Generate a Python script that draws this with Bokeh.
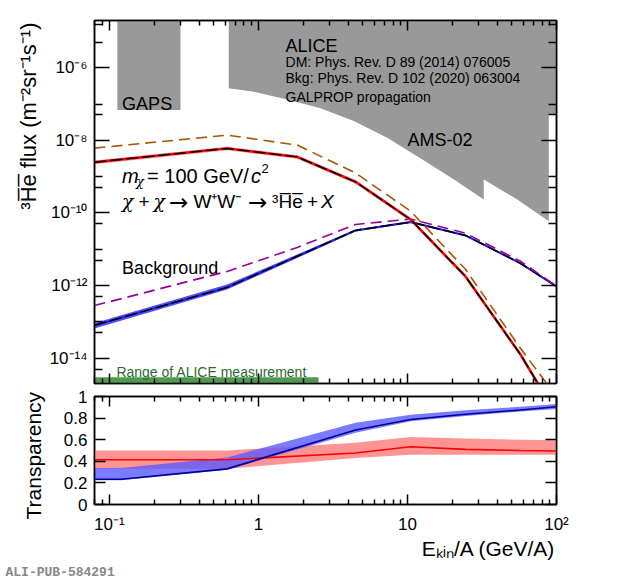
from bokeh.embed import file_html
from bokeh.layouts import column
from bokeh.models import FixedTicker, Label, LinearAxis, LogAxis, Range1d, Title
from bokeh.plotting import figure
from bokeh.resources import INLINE

FONT = "Liberation Sans"
SYM = "DejaVu Serif"

# kinetic energy per nucleon (GeV/A) of the flux curves
e_top = [0.0794, 0.616, 1.82, 4.48, 10.5, 24.5, 57.3, 100]
# DM signal with ALICE absorption (band) and without absorption
dm_flux = [2.5e-9, 6.0e-9, 3.5e-9, 7.2e-10, 6.6e-11, 1.78e-12, 1.26e-14, 2.8e-16]
dm_lo = [2.2e-9, 5.3e-9, 3.1e-9, 6.4e-10, 5.9e-11, 1.6e-12, 1.12e-14, 2.5e-16]
dm_hi = [2.8e-9, 6.7e-9, 3.9e-9, 8.1e-10, 7.4e-11, 2.0e-12, 1.4e-14, 3.2e-16]
dm_noabs = [6.1e-9, 1.39e-8, 7.4e-9, 1.26e-9, 1.12e-10, 2.8e-12, 1.86e-14, 8.7e-16]
# secondary background with absorption (band) and without
bkg_flux = [8.0e-14, 8.9e-13, 6.4e-12, 3.3e-11, 5.6e-11, 2.4e-11, 4.1e-12, 9.5e-13]
bkg_lo = [6.5e-14, 7.8e-13, 5.7e-12, 3.1e-11, 5.3e-11, 2.3e-11, 3.9e-12, 9.0e-13]
bkg_hi = [9.3e-14, 1.06e-12, 7.2e-12, 3.5e-11, 5.9e-11, 2.5e-11, 4.3e-12, 1.0e-12]
bkg_noabs = [2.8e-13, 2.45e-12, 1.12e-11, 4.8e-11, 6.8e-11, 2.75e-11, 4.7e-12, 9.5e-13]

# experiment sensitivities
gaps_e = [0.113, 0.30]
gaps_flux = [6.8e-8, 1e-4]
ams_e = [0.632, 0.632, 0.930, 1.56, 2.61, 4.36, 7.31, 12.2, 20.5, 32.5, 32.5,
         54.5, 88.8, 88.8, 120, 120]
ams_flux = [1e-4, 2.7e-7, 2.18e-7, 1.34e-7, 7.6e-8, 3.4e-8, 1.17e-8, 3.2e-9,
            8.3e-10, 2.34e-10, 8.3e-10, 2.34e-10, 5.9e-11, 5.3e-8, 5.3e-8, 1e-4]
alice_e = [0.0794, 2.53]
alice_flux = [1e-16, 2.95e-15]

# transparency panel
e_bot = [0.0794, 0.12, 0.616, 4.48, 10.5, 24.5, 57.3, 100]
bkg_t = [0.234, 0.234, 0.33, 0.69, 0.787, 0.835, 0.875, 0.905]
bkg_t_lo = [0.225, 0.225, 0.322, 0.665, 0.77, 0.82, 0.862, 0.885]
bkg_t_hi = [0.337, 0.337, 0.436, 0.757, 0.832, 0.872, 0.905, 0.93]
dm_t = [0.414, 0.414, 0.414, 0.477, 0.535, 0.51, 0.50, 0.495]
dm_t_lo = [0.33, 0.33, 0.33, 0.43, 0.46, 0.46, 0.46, 0.46]
dm_t_hi = [0.50, 0.50, 0.50, 0.571, 0.625, 0.61, 0.60, 0.595]

x_major = [0.1, 1, 10, 100]
x_minor = [0.08, 0.09, 0.2, 0.3, 0.4, 0.5, 0.6, 0.7, 0.8, 0.9,
           2, 3, 4, 5, 6, 7, 8, 9, 20, 30, 40, 50, 60, 70, 80, 90]
x_labels = {0.1: "10⁻¹", 1.0: "1", 10.0: "10", 100.0: "10²"}
y_major = [1e-14, 1e-12, 1e-10, 1e-8, 1e-6]
y_minor = [1.6e-5, 5e-6, 1e-7, 5e-8, 1e-9, 5e-10, 5e-11, 1e-11, 5e-12,
           5e-13, 1e-13, 5e-14, 5e-15]
y_labels = {1e-14: "10⁻¹⁴", 1e-12: "10⁻¹²", 1e-10: "10⁻¹⁰", 1e-8: "10⁻⁸", 1e-6: "10⁻⁶"}
t_major = [0.0, 0.2, 0.4, 0.6, 0.8, 1.0]
t_labels = {0.0: "0", 0.2: "0.2", 0.4: "0.4", 0.6: "0.6", 0.8: "0.8", 1.0: "1"}


def frame_axis(ax, ticker, major_len, minor_len, labels=None, standoff=7):
    ax.ticker = ticker
    ax.major_tick_in = major_len
    ax.major_tick_out = 0
    ax.minor_tick_in = minor_len
    ax.minor_tick_out = 0
    for a in ("axis_line", "major_tick_line", "minor_tick_line"):
        setattr(ax, a + "_color", "black")
        setattr(ax, a + "_width", 1.5)
    if labels is None:
        ax.major_label_text_font_size = "1px"
        ax.major_label_text_alpha = 0
        ax.major_label_standoff = 0
    else:
        ax.major_label_overrides = labels
        ax.major_label_text_font = FONT
        ax.major_label_text_font_size = "17px"
        ax.major_label_text_color = "black"
        ax.major_label_standoff = standoff


def text(p, x, y, s, size=18, style="normal", color="black", dx=0, dy=0, font=FONT):
    p.add_layout(Label(x=x, y=y, text=s, x_offset=dx, y_offset=dy,
                       text_baseline="alphabetic", text_font=font,
                       text_font_size=f"{size}px", text_font_style=style,
                       text_color=color))


def title(p, side, s, size, align, offset, valign, standoff,
          font=FONT, style="normal", color="black"):
    p.add_layout(Title(text=s, align=align, offset=offset, vertical_align=valign,
                       standoff=standoff, text_font=font, text_font_size=f"{size}px",
                       text_font_style=style, text_color=color), side)


p1 = figure(width=610, height=386, x_axis_type="log", y_axis_type="log",
            x_range=Range1d(10 ** -1.1, 100), y_range=Range1d(2e-15, 2e-5),
            output_backend="svg", toolbar_location=None,
            min_border_left=94, min_border_right=54, min_border_top=20,
            min_border_bottom=3)
p1.grid.visible = False
p1.outline_line_color = "black"
p1.outline_line_width = 1.5

p1.patch(ams_e, ams_flux, fill_color="#999999", line_color=None)
p1.quad(left=gaps_e[0], right=gaps_e[1], bottom=gaps_flux[0], top=gaps_flux[1],
        fill_color="#999999", line_color=None)
p1.quad(left=alice_e[0], right=alice_e[1], bottom=alice_flux[0], top=alice_flux[1],
        fill_color="#509a50", line_color=None)

p1.varea(x=e_top, y1=bkg_lo, y2=bkg_hi, fill_color="#5050ff")
p1.line(e_top, bkg_flux, line_color="#2020e0", line_width=2)
p1.line(e_top, bkg_flux, line_color="black", line_width=1.5, line_dash="12 4")
p1.line(e_top, bkg_noabs, line_color="#990099", line_width=1.6, line_dash="11 6")
p1.varea(x=e_top, y1=dm_lo, y2=dm_hi, fill_color="#ff9999")
p1.line(e_top, dm_flux, line_color="red", line_width=2.5)
p1.line(e_top, dm_flux, line_color="black", line_width=1.5, line_dash="12 4")
p1.line(e_top, dm_noabs, line_color="#aa5500", line_width=1.6, line_dash="11 6")

x_tick = FixedTicker(ticks=x_major, minor_ticks=x_minor)
y_tick = FixedTicker(ticks=y_major, minor_ticks=y_minor)
frame_axis(p1.xaxis[0], x_tick, 10, 5)
frame_axis(p1.yaxis[0], y_tick, 15, 8, y_labels)
top1 = LogAxis()
frame_axis(top1, x_tick, 10, 5)
p1.add_layout(top1, "above")
right1 = LogAxis()
frame_axis(right1, y_tick, 15, 8)
p1.add_layout(right1, "right")

text(p1, 1.52, 3.96e-6, "ALICE", 18)
text(p1, 1.52, 1.45e-6, "DM: Phys. Rev. D 89 (2014) 076005", 14)
text(p1, 1.52, 5.1e-7, "Bkg: Phys. Rev. D 102 (2020) 063004", 14)
text(p1, 1.52, 1.56e-7, "GALPROP propagation", 14)
text(p1, 10.0, 1.01e-8, "AMS-02", 18)
text(p1, 0.1217, 1.02e-7, "GAPS", 18)
text(p1, 0.1217, 1.02e-9, "m", 20, "italic")
text(p1, 0.1217, 1.02e-9, "χ", 13, "italic", dx=14, dy=-5, font=SYM)
text(p1, 0.1217, 1.02e-9, "= 100 GeV/", 20, dx=25)
text(p1, 0.1217, 1.02e-9, "c", 20, "italic", dx=129)
text(p1, 0.1217, 1.02e-9, "2", 13, dx=139.5, dy=8)
text(p1, 0.1217, 2.08e-10, "χ", 19, "italic", font=SYM)
text(p1, 0.1217, 2.08e-10, "+", 19, dx=16.3)
text(p1, 0.1217, 2.08e-10, "χ", 19, "italic", dx=31.3, font=SYM)
text(p1, 0.1217, 2.08e-10, "→", 23, dx=47, dy=-1, font="DejaVu Sans")
text(p1, 0.1217, 2.08e-10, "W⁺W⁻", 19, dx=71.3)
text(p1, 0.1217, 2.08e-10, "→", 23, dx=126, dy=-1, font="DejaVu Sans")
text(p1, 0.1217, 2.08e-10, "³H̅e̅", 19, dx=150)
text(p1, 0.1217, 2.08e-10, "+", 19, dx=185)
text(p1, 0.1217, 2.08e-10, "X", 19, "italic", dx=199)
text(p1, 0.1217, 3.0e-12, "Background", 18)
text(p1, 0.1114, 4.1e-15, "Range of ALICE measurement", 14, color="#2d6a2d")

title(p1, "left", "³H̅e̅ flux (m⁻²sr⁻¹s⁻¹)", 22, "right", 2, "bottom", 12)

p2 = figure(width=610, height=198, x_axis_type="log",
            x_range=Range1d(10 ** -1.1, 100), y_range=Range1d(0, 1),
            output_backend="svg", toolbar_location=None,
            min_border_left=94, min_border_right=54, min_border_top=10,
            min_border_bottom=77)
p2.grid.visible = False
p2.outline_line_color = "black"
p2.outline_line_width = 1.5

p2.varea(x=e_bot, y1=dm_t_lo, y2=dm_t_hi, fill_color="#ff9494")
p2.varea(x=e_bot, y1=bkg_t_lo, y2=bkg_t_hi, fill_color="#5a5aff", fill_alpha=0.8)
p2.line(e_bot, dm_t, line_color="red", line_width=1.6)
p2.line(e_bot, bkg_t, line_color="#000099", line_width=1.6)

t_tick = FixedTicker(ticks=t_major, minor_ticks=[])
frame_axis(p2.xaxis[0], x_tick, 10, 5, x_labels, standoff=10)
frame_axis(p2.yaxis[0], t_tick, 11, 0, t_labels)
top2 = LogAxis()
frame_axis(top2, x_tick, 10, 5)
p2.add_layout(top2, "above")
right2 = LinearAxis()
frame_axis(right2, t_tick, 11, 0)
p2.add_layout(right2, "right")

title(p2, "left", "Transparency", 21, "left", -15, "bottom", 32)
title(p2, "below", "Eₖᵢₙ/A (GeV/A)", 21, "right", 1, "top", 0)
title(p2, "below", "ALI-PUB-584291", 13, "left", -89, "top", 6,
      font="Liberation Mono", style="bold", color="#888888")

layout = column(p1, p2)
open("out.html", "w").write(file_html(layout, INLINE))
